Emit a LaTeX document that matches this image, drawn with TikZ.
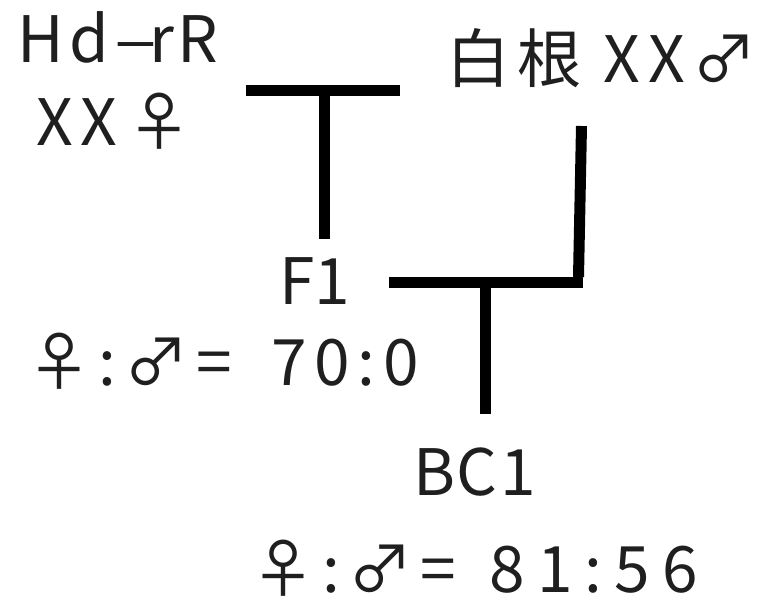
\documentclass[tikz,border=0pt]{standalone}
\usepackage{graphicx}
\usepackage{fontspec}
\setmainfont{Noto Sans CJK JP}
\newfontfamily\gothic{Noto Sans CJK JP}
\newfontfamily\gothicw[LetterSpace=12]{Noto Sans CJK JP}
\newfontfamily\gothicx[LetterSpace=19]{Noto Sans CJK JP}
\newcommand\gap[1]{\rule{#1}{0pt}}
\begin{document}
\begin{tikzpicture}[x=1pt,y=-1pt,
  lbl/.style={anchor=base west,inner sep=0pt,font=\gothic\fontsize{64}{70}\selectfont,text=black!88},
  wide/.style={lbl,font=\gothicw\fontsize{64}{70}\selectfont},
  bar/.style={line width=11pt,line cap=butt,black}]
\useasboundingbox (0,0) rectangle (760,595);
% parents
\node[lbl] (p1a) at (17,62) {H\gap{6pt}d\gap{5pt}\scalebox{1.25}[1]{–}\kern-8pt r\gap{3pt}R};
\node[wide] (p1b) at (36,145) {XX\gap{10pt}♀};
\node[wide] (p2) at (446,82) {白根 XX♂};
% offspring
\node[lbl] (f1) at (279,304) {F1};
\node[wide] (f1r) at (27,385) {♀:♂=\gap{40pt}70:0};
\node[lbl] (bc1) at (413,495) {B\kern1ptC\kern3pt1};
\node[wide] (bc1r) at (251,592) {♀:♂=\gap{34pt}{\gothicx 81:56}};
% cross of the two parents
\coordinate (c1l) at (246,90.5);
\coordinate (c1r) at (400,90.5);
\coordinate (c1m) at (324.5,90.5);
\coordinate (c1d) at (324.5,239);
\draw[bar] (c1l) -- (c1r);
\draw[bar] (c1m) -- (c1d);
% backcross of F1 with the male parent
\coordinate (c2t) at (581.5,126);
\coordinate (c2c) at (578.5,282.5);
\coordinate (c2l) at (389,282.5);
\coordinate (c2m) at (485.5,282.5);
\coordinate (c2d) at (485.5,414);
\draw[bar] (c2t) -- ([yshift=5.5pt]c2c);
\draw[bar] ([xshift=4pt]c2c) -- (c2l);
\draw[bar] (c2m) -- (c2d);
\end{tikzpicture}
\end{document}
